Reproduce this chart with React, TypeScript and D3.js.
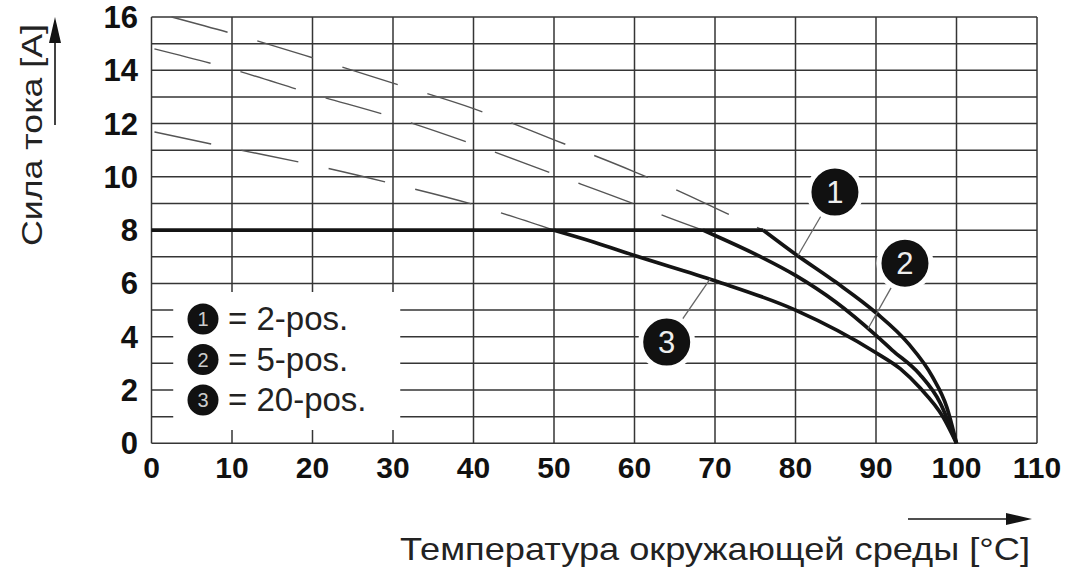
import React from "react";
import * as d3 from "d3";

// chart size
const W = 1078;
const H = 571;

// axes
const tempTicks = [0, 10, 20, 30, 40, 50, 60, 70, 80, 90, 100, 110];
const currentTicks = [0, 2, 4, 6, 8, 10, 12, 14, 16];
const currentGrid = d3.range(0, 17, 1);

// rated current plateau
const ratedCurrent = 8;

// derating curves below 8 A (solid) – [temperature °C, current A]
const derate2pos: [number, number][] = [[76, 8], [80, 7.1], [85, 6.05], [90, 4.9], [94, 3.75], [97, 2.5], [98.8, 1.35], [100, 0]];
const derate5pos: [number, number][] = [[68.5, 8], [70, 7.8], [75, 7.1], [80, 6.3], [85, 5.3], [90, 4.05], [92, 3.5], [95.4, 2.6], [98, 1.5], [100, 0]];
const derate20pos: [number, number][] = [[50, 8], [55, 7.55], [60, 7.05], [70, 6.1], [80, 5.0], [90, 3.4], [93, 2.8], [95.4, 2.1], [98.3, 1.0], [100, 0]];

// contact limit above 8 A (dashed)
const limit2pos: [number, number][] = [[2.5, 16], [10, 15.38], [20, 14.47], [30, 13.52], [40, 12.56], [50, 11.39], [60, 10.19], [66, 9.4], [72, 8.55], [76, 8]];
const limit5pos: [number, number][] = [[0, 14.83], [10, 14.04], [20, 13.11], [30, 12.24], [40, 11.22], [50, 10.1], [60, 8.98], [64, 8.5], [68.5, 8]];
const limit20pos: [number, number][] = [[0, 11.71], [10, 11.07], [20, 10.45], [30, 9.74], [40, 8.96], [45, 8.5], [50, 8]];

// callouts: label, circle centre, point on curve
const calloutLabels = ["1", "2", "3"];
const calloutAt: [number, number][] = [[84.9, 9.43], [93.6, 6.76], [64.0, 3.8]];
const calloutTarget: [number, number][] = [[80.3, 7.05], [89, 4.3], [69.4, 6.17]];

// legend
const legendLabels = ["= 2-pos.", "= 5-pos.", "= 20-pos."];

const yTitle = "Сила тока [A]";
const xTitle = "Температура окружающей среды [°C]";

const x = d3.scaleLinear().domain([0, 110]).range([151.5, 1037]);
const y = d3.scaleLinear().domain([0, 16]).range([443.3, 17]);

const smooth = d3.line<[number, number]>()
  .x((d) => x(d[0]))
  .y((d) => y(d[1]))
  .curve(d3.curveMonotoneX);

const font = "'Liberation Sans', Arial, sans-serif";
const gridColor = "#353535";
const ink = "#141414";

export default function App() {
  const derates = [derate2pos, derate5pos, derate20pos];
  const limits = [limit2pos, limit5pos, limit20pos];
  const dashOffsets = [0, 86, 86];
  const kneeMax = d3.max(derates, (d) => d[0][0]) as number;

  return (
    <svg width={W} height={H} style={{ position: "absolute", left: 0, top: 0, background: "#fff" }}>
      {/* grid */}
      <g stroke={gridColor} strokeWidth={1.5}>
        {currentGrid.map((c) => (
          <line key={"h" + c} x1={x(0)} x2={x(110)} y1={y(c)} y2={y(c)} />
        ))}
        {tempTicks.map((t) => (
          <line key={"v" + t} x1={x(t)} x2={x(t)} y1={y(0)} y2={y(16)} />
        ))}
      </g>

      {/* legend box hides grid */}
      <rect x={x(2.7)} y={292} width={x(30.9) - x(2.7)} height={138} fill="#fff" />

      {/* dashed contact limits */}
      {limits.map((d, i) => (
        <path key={"l" + i} d={smooth(d) as string} fill="none" stroke="#555" strokeWidth={1.4}
          strokeDasharray="58 31" strokeDashoffset={dashOffsets[i]} />
      ))}

      {/* rated current plateau */}
      <line x1={x(0)} x2={x(kneeMax)} y1={y(ratedCurrent)} y2={y(ratedCurrent)} stroke={ink} strokeWidth={3.8} />

      {/* derating curves */}
      {derates.map((d, i) => (
        <path key={"d" + i} d={smooth(d) as string} fill="none" stroke={ink} strokeWidth={3.7} strokeLinejoin="round" />
      ))}

      {/* callouts */}
      {calloutLabels.map((lab, i) => {
        const cx = x(calloutAt[i][0]);
        const cy = y(calloutAt[i][1]);
        const tx = x(calloutTarget[i][0]);
        const ty = y(calloutTarget[i][1]);
        const a = Math.atan2(ty - cy, tx - cx);
        return (
          <g key={"c" + i}>
            <line x1={cx + 26 * Math.cos(a)} y1={cy + 26 * Math.sin(a)} x2={tx} y2={ty} stroke="#666" strokeWidth={1.3} />
            <circle cx={cx} cy={cy} r={26} fill="#111" stroke="#fff" strokeWidth={5} />
            <text x={cx} y={cy + 11} textAnchor="middle" fill="#eee" fontFamily={font} fontSize={31}>{lab}</text>
          </g>
        );
      })}

      {/* legend */}
      {legendLabels.map((lab, i) => {
        const cy = 319 + i * 40.5;
        return (
          <g key={"lg" + i}>
            <circle cx={203} cy={cy} r={15.5} fill="#111" />
            <text x={203} y={cy + 7} textAnchor="middle" fill="#ccc" fontFamily={font} fontSize={20}>{calloutLabels[i]}</text>
            <text x={228} y={cy + 11} fill="#222" fontFamily={font} fontSize={33}>{lab}</text>
          </g>
        );
      })}

      {/* tick labels */}
      {currentTicks.map((c) => (
        <text key={"yt" + c} x={138} y={y(c) + 11} textAnchor="end" fontFamily={font} fontWeight="bold" fontSize={31} fill="#111">{c}</text>
      ))}
      {tempTicks.map((t) => (
        <text key={"xt" + t} x={x(t)} y={478} textAnchor="middle" fontFamily={font} fontWeight="bold" fontSize={30} fill="#111">{t}</text>
      ))}

      {/* axis titles with arrows */}
      <text transform="translate(42,135) rotate(-90)" textAnchor="middle" fontFamily={font} fontSize={30} fill="#222"
        textLength={222} lengthAdjust="spacingAndGlyphs">{yTitle}</text>
      <line x1={55} x2={55} y1={125} y2={40} stroke={ink} strokeWidth={1.6} />
      <path d="M55,17 L61,43 L49,43 Z" fill={ink} />

      <text x={1030} y={560} textAnchor="end" fontFamily={font} fontSize={32} fill="#222"
        textLength={630} lengthAdjust="spacingAndGlyphs">{xTitle}</text>
      <line x1={908} x2={1010} y1={519} y2={519} stroke={ink} strokeWidth={1.6} />
      <path d="M1032,519 L1006,513 L1006,525 Z" fill={ink} />
    </svg>
  );
}
